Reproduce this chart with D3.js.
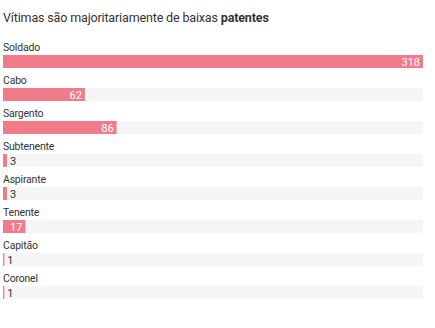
<!DOCTYPE html>
<html><head><meta charset="utf-8">
<script src="https://cdn.jsdelivr.net/npm/d3@7"></script>
<style>body{margin:0;background:#fff;font-family:Roboto,"Noto Sans",sans-serif;}</style>
</head><body>
<svg id="c" width="435" height="328"></svg>
<script>
const categories = ["Soldado","Cabo","Sargento","Subtenente","Aspirante","Tenente","Capitão","Coronel"];
const values = [318,62,86,3,3,17,1,1];

const svg = d3.select("#c");
const left = 3, right = 423, firstBarTop = 55, step = 33, barH = 13;
const x = d3.scaleLinear().domain([0, d3.max(values)]).range([left, right]);
const y = d3.scaleBand().domain(categories).range([firstBarTop, firstBarTop + step*categories.length]).paddingInner(0).paddingOuter(0);

const t = svg.append("text").attr("x",3).attr("y",22).attr("font-size",12.5).attr("letter-spacing",-0.15).attr("fill","#333");
t.append("tspan").text("Vítimas são majoritariamente de baixas ");
t.append("tspan").attr("font-weight","bold").text("patentes");

const g = svg.selectAll("g.row").data(categories.map((c,i)=>({c,v:values[i]}))).join("g").attr("class","row")
  .attr("transform", d=>`translate(0,${y(d.c)})`);
g.append("rect").attr("x",left).attr("y",0).attr("width",right-left).attr("height",barH).attr("fill","#f5f5f5");
g.append("rect").attr("x",left).attr("y",0).attr("width",d=>Math.max(1,x(d.v)-left)).attr("height",barH).attr("fill","#f07c8a");
g.append("text").attr("x",3).attr("y",-4).attr("font-size",10.5).attr("letter-spacing",-0.2).attr("fill","#333").text(d=>d.c);
g.append("text")
  .attr("x", d => (x(d.v)-left) > 15 ? x(d.v)-3 : x(d.v)+3)
  .attr("y", 10.5)
  .attr("text-anchor", d => (x(d.v)-left) > 15 ? "end" : "start")
  .attr("font-size",11)
  .attr("fill", d => (x(d.v)-left) > 15 ? "#fff" : "#333")
  .text(d=>d.v);
</script>
</body></html>
